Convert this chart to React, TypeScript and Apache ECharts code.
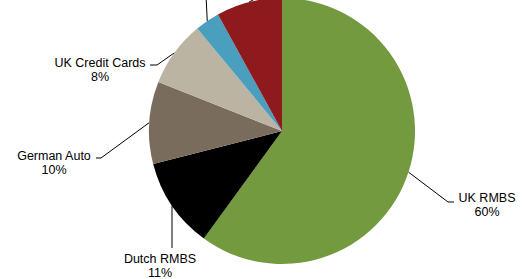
import React, { useEffect, useRef } from "react";
import * as echarts from "echarts";

const categories = ["UK RMBS", "Dutch RMBS", "German Auto", "UK Credit Cards", "Other ABS", "Other"];
const values = [60, 11, 10, 8, 3, 8];
const colors = ["#739A3F", "#000000", "#7A6C5D", "#BCB4A3", "#4A9FBE", "#8E1A1E"];
const showLabel = [true, true, true, true, false, false];

// label layout (pixels): label block centre, elbow point, end point
const labelCenters: number[][] = [
  [487, 205],
  [160, 266],
  [54, 163],
  [100, 70],
  [206, -20],
  [262, -20],
];
const lineElbows: number[][] = [
  [448, 202],
  [172, 248],
  [101, 158],
  [157, 65],
  [206, -5],
  [262, -5],
];
const lineEnds: number[][] = [
  [454, 202],
  [172, 248],
  [96, 158],
  [150, 65],
  [206, -5],
  [262, -5],
];

export default function App() {
  const ref = useRef<HTMLDivElement>(null);
  useEffect(() => {
    if (!ref.current) return;
    const chart = echarts.init(ref.current, undefined, { renderer: "svg" });
    chart.setOption({
      animation: false,
      backgroundColor: "#ffffff",
      series: [
        {
          type: "pie",
          center: [282, 131],
          radius: 133,
          startAngle: 90,
          clockwise: true,
          avoidLabelOverlap: false,
          data: categories.map((c, i) => ({
            name: c,
            value: values[i],
            itemStyle: { color: colors[i] },
          })),
          itemStyle: { borderWidth: 0 },
          label: {
            show: true,
            formatter: (p: any) => (showLabel[p.dataIndex] ? `${p.name}\n${p.percent.toFixed(0)}%` : ""),
            color: "#000000",
            fontFamily: "'Liberation Sans', Arial, sans-serif",
            fontSize: 12.5,
            lineHeight: 14.5,
            align: "center",
          },
          labelLine: {
            show: true,
            length: 10,
            length2: 5,
            lineStyle: { color: "#000000", width: 1 },
          },
          labelLayout: (params: any) => {
            const i = params.dataIndex;
            const start = params.labelLinePoints ? params.labelLinePoints[0] : lineElbows[i];
            return {
              x: labelCenters[i][0],
              y: labelCenters[i][1],
              align: "center",
              verticalAlign: "middle",
              labelLinePoints: [start, lineElbows[i], lineEnds[i]],
            };
          },
          emphasis: { disabled: true },
        },
      ],
    });
    return () => chart.dispose();
  }, []);
  return (
    <div
      ref={ref}
      style={{ position: "fixed", left: 0, top: 0, width: 527, height: 279 }}
    />
  );
}
